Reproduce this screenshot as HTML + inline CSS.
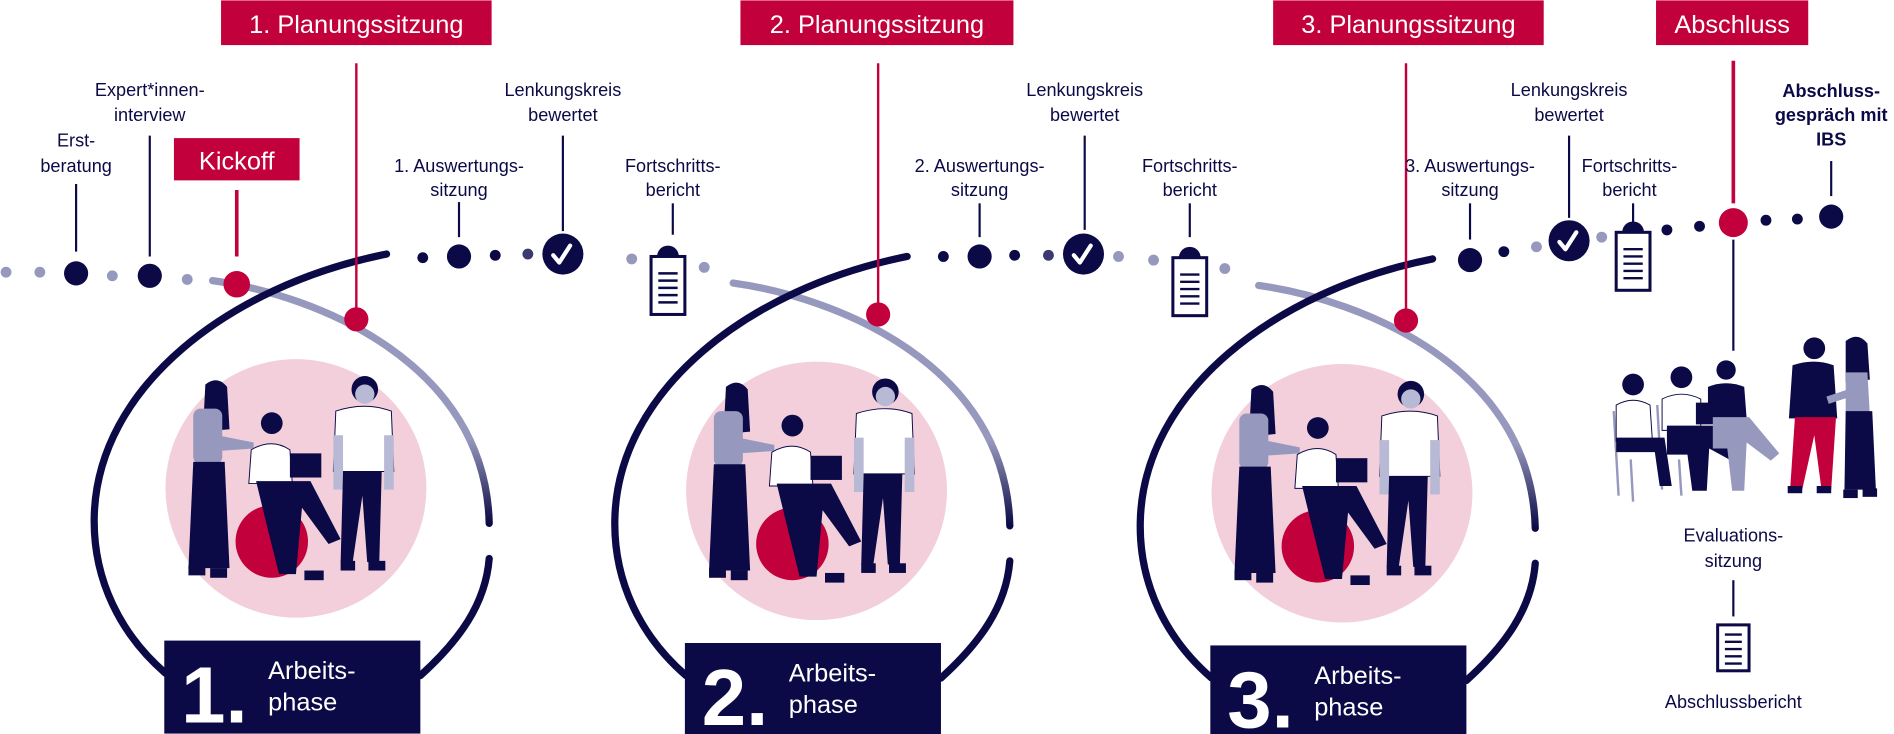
<!DOCTYPE html>
<html><head><meta charset="utf-8"><style>
html,body{margin:0;padding:0;background:#fff;}
svg{display:block}
text{font-family:"Liberation Sans","DejaVu Sans",sans-serif;fill:#0b0a46;}
.l{font-size:15px;text-anchor:middle;}
.b{font-size:15px;text-anchor:middle;font-weight:bold;}
.w{fill:#fff;}
</style></head><body>
<svg width="1894" height="734" viewBox="0 0 1568 607" xmlns="http://www.w3.org/2000/svg">
<defs>
<linearGradient id="g" x1="0" y1="0" x2="0" y2="1" gradientUnits="objectBoundingBox">
<stop offset="0" stop-color="#9798bd"/><stop offset="0.65" stop-color="#9798bd"/><stop offset="1" stop-color="#0b0a46"/></linearGradient>
<g id="phase">
<ellipse cx="245" cy="404" rx="108" ry="107" fill="#f2cfdb"/>
<path d="M176,232 C262,244 402,300 405,433" fill="none" stroke="url(#g)" stroke-width="6" stroke-linecap="round"/>
<path d="M320,210 C190,236 80,320 78,428 C77,480 100,525 137,557" fill="none" stroke="#0b0a46" stroke-width="6" stroke-linecap="round"/>
<path d="M348,559 C380,530 402,500 405,462" fill="none" stroke="#0b0a46" stroke-width="6" stroke-linecap="round"/>
<rect x="136" y="530" width="212" height="77" fill="#0b0a46"/>
<path d="M170,318 q10,-8 18,2 l2,35 -22,2z" fill="#0b0a46"/>
<rect x="160" y="338" width="24" height="46" rx="6" fill="#9798bd"/>
<path d="M180,360 l30,6 0,5 -30,2z" fill="#9798bd"/>
<path d="M160,382 l26,0 4,88 -34,0z" fill="#0b0a46"/>
<rect x="156" y="468" width="14" height="8" fill="#0b0a46"/><rect x="174" y="470" width="14" height="8" fill="#0b0a46"/>
<circle cx="225" cy="448" r="30" fill="#c2003b"/>
<circle cx="225" cy="350" r="9" fill="#0b0a46"/>
<path d="M208,372 q17,-10 32,0 l2,28 -36,0z" fill="#fff" stroke="#0b0a46" stroke-width="0.8"/>
<rect x="240" y="375" width="26" height="20" fill="#0b0a46"/>
<path d="M212,398 l45,0 l25,48 -10,4 -22,-30 -5,55 -14,0 -10,-40 z" fill="#0b0a46"/>
<rect x="252" y="472" width="16" height="8" fill="#0b0a46"/>
<circle cx="302" cy="322" r="11" fill="#0b0a46"/><circle cx="302" cy="326" r="8" fill="#b8b9d4"/>
<path d="M278,340 q24,-8 46,0 l2,50 -50,0z" fill="#fff" stroke="#0b0a46" stroke-width="0.8"/>
<rect x="276" y="360" width="8" height="45" fill="#b8b9d4"/><rect x="318" y="360" width="8" height="45" fill="#b8b9d4"/>
<path d="M284,390 l32,0 -2,75 -10,0 -4,-55 -8,55 -10,0z" fill="#0b0a46"/>
<rect x="282" y="464" width="12" height="8" fill="#0b0a46"/><rect x="305" y="464" width="14" height="8" fill="#0b0a46"/>
</g>
<g id="clip"><rect x="-14" y="0" width="28" height="48" fill="#fff" stroke="#0b0a46" stroke-width="2.5"/>
<path d="M-9,0 a9,9 0 0 1 18,0z" fill="#0b0a46"/>
<g stroke="#0b0a46" stroke-width="2"><line x1="-8" y1="14" x2="8" y2="14"/><line x1="-8" y1="20" x2="8" y2="20"/><line x1="-8" y1="26" x2="8" y2="26"/><line x1="-8" y1="32" x2="8" y2="32"/><line x1="-8" y1="38" x2="8" y2="38"/></g></g>
<g id="chk"><circle r="17" fill="#0b0a46"/><path d="M-8,1 l5,6 9,-14" fill="none" stroke="#fff" stroke-width="3.5" stroke-linecap="round" stroke-linejoin="round"/></g>
</defs>

<use href="#phase"/>
<use href="#phase" transform="translate(431,2)"/>
<use href="#phase" transform="translate(866,4)"/>

<g font-weight="bold">
<text x="150" y="598" class="w" font-size="66">1.</text>
<text x="581" y="600" class="w" font-size="66">2.</text>
<text x="1016" y="602" class="w" font-size="66">3.</text>
</g>
<text x="222" y="562" class="w" font-size="21">Arbeits-</text><text x="222" y="588" class="w" font-size="21">phase</text>
<text x="653" y="564" class="w" font-size="21">Arbeits-</text><text x="653" y="590" class="w" font-size="21">phase</text>
<text x="1088" y="566" class="w" font-size="21">Arbeits-</text><text x="1088" y="592" class="w" font-size="21">phase</text>

<rect x="183" y="0" width="224" height="37" fill="#c2003b"/><text x="295" y="27" class="w" font-size="21" text-anchor="middle">1. Planungssitzung</text>
<rect x="613" y="0" width="226" height="37" fill="#c2003b"/><text x="726" y="27" class="w" font-size="21" text-anchor="middle">2. Planungssitzung</text>
<rect x="1054" y="0" width="224" height="37" fill="#c2003b"/><text x="1166" y="27" class="w" font-size="21" text-anchor="middle">3. Planungssitzung</text>
<rect x="1371" y="0" width="126" height="37" fill="#c2003b"/><text x="1434" y="27" class="w" font-size="21" text-anchor="middle">Abschluss</text>
<rect x="144" y="114" width="104" height="35" fill="#c2003b"/><text x="196" y="140" class="w" font-size="21" text-anchor="middle">Kickoff</text>

<g stroke="#c2003b">
<line x1="295" y1="52" x2="295" y2="262" stroke-width="2"/>
<line x1="727" y1="52" x2="727" y2="258" stroke-width="2"/>
<line x1="1164" y1="52" x2="1164" y2="264" stroke-width="2"/>
<line x1="196" y1="157" x2="196" y2="212" stroke-width="3"/>
<line x1="1435" y1="50" x2="1435" y2="168" stroke-width="3"/>
</g>
<g stroke="#0b0a46" stroke-width="1.8">
<line x1="63" y1="152" x2="63" y2="208"/>
<line x1="124" y1="112" x2="124" y2="212"/>
<line x1="380" y1="167" x2="380" y2="196"/>
<line x1="466" y1="112" x2="466" y2="191"/>
<line x1="557" y1="168" x2="557" y2="194"/>
<line x1="811" y1="168" x2="811" y2="196"/>
<line x1="898" y1="112" x2="898" y2="190"/>
<line x1="985" y1="168" x2="985" y2="196"/>
<line x1="1217" y1="168" x2="1217" y2="198"/>
<line x1="1299" y1="112" x2="1299" y2="180"/>
<line x1="1352" y1="168" x2="1352" y2="184"/>
<line x1="1516" y1="133" x2="1516" y2="162"/>
<line x1="1435" y1="198" x2="1435" y2="290"/>
<line x1="1435" y1="480" x2="1435" y2="510"/>
</g>

<g fill="#9798bd">
<circle cx="5" cy="225" r="4.5"/><circle cx="33" cy="225" r="4.5"/><circle cx="93" cy="228" r="4.5"/><circle cx="155" cy="231" r="4.5"/>
<circle cx="523" cy="214" r="4.5"/><circle cx="583" cy="221" r="4.5"/>
<circle cx="926" cy="212" r="4.5"/><circle cx="955" cy="215" r="4.5"/><circle cx="1014" cy="222" r="4.5"/>
<circle cx="1272" cy="204" r="4.5"/><circle cx="1326" cy="196" r="4.5"/>
</g>
<g fill="#0b0a46">
<circle cx="63" cy="226" r="10"/><circle cx="124" cy="228" r="10"/>
<circle cx="350" cy="213" r="4.5"/><circle cx="380" cy="212" r="10"/><circle cx="410" cy="211" r="4.5"/><circle cx="437" cy="210" r="4.5" fill="#3a3a70"/>
<circle cx="781" cy="212" r="4.5"/><circle cx="811" cy="212" r="10"/><circle cx="840" cy="211" r="4.5"/><circle cx="868" cy="211" r="4.5" fill="#3a3a70"/>
<circle cx="1217" cy="215" r="10"/><circle cx="1245" cy="208" r="4.5"/>
<circle cx="1380" cy="190" r="4.5"/><circle cx="1407" cy="187" r="4.5"/><circle cx="1462" cy="182" r="4.5"/><circle cx="1488" cy="181" r="4.5"/><circle cx="1516" cy="179" r="10"/>
</g>
<g fill="#c2003b">
<circle cx="196" cy="235" r="11"/><circle cx="295" cy="264" r="10"/><circle cx="727" cy="260" r="10"/><circle cx="1164" cy="265" r="10"/><circle cx="1435" cy="184" r="12"/>
</g>
<use href="#chk" x="466" y="210"/><use href="#chk" x="897" y="210"/><use href="#chk" x="1299" y="199"/>
<use href="#clip" x="553" y="212"/><use href="#clip" x="985" y="213"/><use href="#clip" x="1352" y="192"/>
<rect x="1422" y="517" width="26" height="38" fill="#fff" stroke="#0b0a46" stroke-width="2.5"/>
<g stroke="#0b0a46" stroke-width="2"><line x1="1428" y1="525" x2="1442" y2="525"/><line x1="1428" y1="531" x2="1442" y2="531"/><line x1="1428" y1="537" x2="1442" y2="537"/><line x1="1428" y1="543" x2="1442" y2="543"/><line x1="1428" y1="549" x2="1442" y2="549"/></g>

<text class="l" x="63" y="121">Erst-</text><text class="l" x="63" y="142">beratung</text>
<text class="l" x="124" y="79">Expert*innen-</text><text class="l" x="124" y="100">interview</text>
<text class="l" x="380" y="142">1. Auswertungs-</text><text class="l" x="380" y="162">sitzung</text>
<text class="l" x="466" y="79">Lenkungskreis</text><text class="l" x="466" y="100">bewertet</text>
<text class="l" x="557" y="142">Fortschritts-</text><text class="l" x="557" y="162">bericht</text>
<text class="l" x="811" y="142">2. Auswertungs-</text><text class="l" x="811" y="162">sitzung</text>
<text class="l" x="898" y="79">Lenkungskreis</text><text class="l" x="898" y="100">bewertet</text>
<text class="l" x="985" y="142">Fortschritts-</text><text class="l" x="985" y="162">bericht</text>
<text class="l" x="1217" y="142">3. Auswertungs-</text><text class="l" x="1217" y="162">sitzung</text>
<text class="l" x="1299" y="79">Lenkungskreis</text><text class="l" x="1299" y="100">bewertet</text>
<text class="l" x="1349" y="142">Fortschritts-</text><text class="l" x="1349" y="162">bericht</text>
<text class="b" x="1516" y="80">Abschluss-</text><text class="b" x="1516" y="100">gespräch mit</text><text class="b" x="1516" y="120">IBS</text>
<text class="l" x="1435" y="448">Evaluations-</text><text class="l" x="1435" y="469">sitzung</text>
<text class="l" x="1435" y="586">Abschlussbericht</text>

<g>
<g stroke="#9798bd" stroke-width="2" fill="none">
<path d="M1336,340 l4,70 M1350,380 l2,35 M1372,335 l4,70 M1390,380 l2,30"/>
</g>
<circle cx="1352" cy="318" r="9" fill="#0b0a46"/>
<path d="M1338,335 q14,-8 28,0 l2,30 -30,0z" fill="#fff" stroke="#0b0a46" stroke-width="0.8"/>
<path d="M1338,362 l40,0 l6,40 -10,0 -4,-28 -32,0z" fill="#0b0a46"/>
<circle cx="1392" cy="312" r="9" fill="#0b0a46"/>
<path d="M1376,330 q16,-8 32,0 l0,26 -32,0z" fill="#fff" stroke="#0b0a46" stroke-width="0.8"/>
<rect x="1404" y="333" width="22" height="18" fill="#0b0a46"/>
<path d="M1380,352 l40,0 l25,25 -8,6 -22,-12 -2,35 -12,0 -4,-30 -17,0z" fill="#0b0a46"/>
<circle cx="1429" cy="306" r="8" fill="#0b0a46"/>
<path d="M1414,320 q15,-6 30,0 l2,26 -32,0z" fill="#0b0a46"/>
<path d="M1418,345 l30,0 l25,30 -7,6 -20,-15 -2,40 -10,0 -4,-35 -12,0z" fill="#9798bd"/>
<circle cx="1502" cy="288" r="9" fill="#0b0a46"/>
<path d="M1484,302 q18,-6 34,0 l3,44 -40,0z" fill="#0b0a46"/>
<path d="M1486,345 l34,0 -4,60 -8,0 -6,-45 -10,45 -10,0z" fill="#c2003b"/>
<rect x="1480" y="402" width="12" height="6" fill="#0b0a46"/><rect x="1504" y="402" width="12" height="6" fill="#0b0a46"/>
<path d="M1528,282 q10,-8 18,2 l2,30 -20,2z" fill="#0b0a46"/>
<path d="M1528,308 l18,0 2,35 -20,0z" fill="#9798bd"/>
<path d="M1512,328 l18,-6 2,6 -18,6z" fill="#9798bd"/>
<path d="M1528,340 l22,0 3,65 -26,0z" fill="#0b0a46"/>
<rect x="1526" y="405" width="12" height="7" fill="#0b0a46"/><rect x="1542" y="404" width="12" height="7" fill="#0b0a46"/>
</g>
</svg>
</body></html>
